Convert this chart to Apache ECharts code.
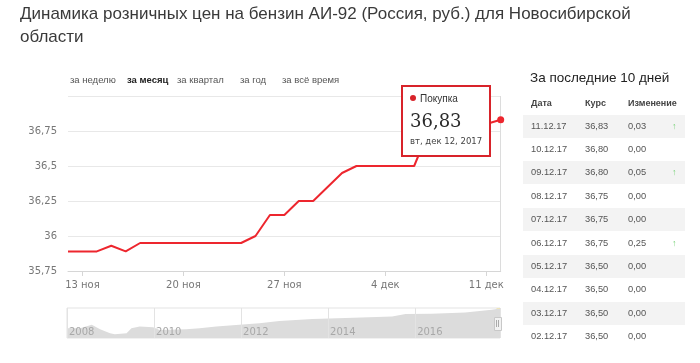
<!DOCTYPE html>
<html>
<head>
<meta charset="utf-8">
<script src="https://cdn.jsdelivr.net/npm/echarts@6/dist/echarts.min.js"></script>
<style>
  html, body { margin:0; padding:0; background:#fff; }
  body { width:700px; height:363px; position:relative; overflow:hidden; font-family:"Liberation Sans", Arial, sans-serif; }
  #chart { position:absolute; left:0; top:0; width:700px; height:363px; }
  .title { position:absolute; left:20px; top:2px; font-size:17px; line-height:23px; color:#3a3a3a; white-space:nowrap; }
  .range { position:absolute; top:73px; font-size:9.5px; color:#555; line-height:14px; white-space:nowrap; }
  .range.active { font-weight:bold; color:#222; }
  .side-title { position:absolute; left:530px; top:69px; font-size:13.5px; color:#222; line-height:18px; white-space:nowrap; }
  .th { position:absolute; top:97px; font-size:9px; font-weight:bold; color:#444; line-height:12px; white-space:nowrap; }
  .row { position:absolute; left:523px; width:162px; height:23px; }
  .row.shade { background:#f3f3f3; }
  .cell { position:absolute; top:0; font-size:9.3px; color:#555; line-height:23px; white-space:nowrap; }
  .arrow { color:#7ad37a; font-size:9px; }
</style>
</head>
<body>
<div id="chart"></div>
<div class="title">Динамика розничных цен на бензин АИ-92 (Россия, руб.) для Новосибирской<br>области</div>
<div id="ranges"></div>
<div class="side-title">За последние 10 дней</div>
<div class="th" style="left:531px">Дата</div>
<div class="th" style="left:585px">Курс</div>
<div class="th" style="left:628px">Изменение</div>
<div id="table"></div>
<script>
// ---- main chart data ----
const dates = ['2017-11-12','2017-11-13','2017-11-14','2017-11-15','2017-11-16','2017-11-17','2017-11-18','2017-11-19','2017-11-20','2017-11-21','2017-11-22','2017-11-23','2017-11-24','2017-11-25','2017-11-26','2017-11-27','2017-11-28','2017-11-29','2017-11-30','2017-12-01','2017-12-02','2017-12-03','2017-12-04','2017-12-05','2017-12-06','2017-12-07','2017-12-08','2017-12-09','2017-12-10','2017-12-11','2017-12-12'];
const prices = [35.89,35.89,35.89,35.93,35.89,35.95,35.95,35.95,35.95,35.95,35.95,35.95,35.95,36.00,36.15,36.15,36.25,36.25,36.35,36.45,36.50,36.50,36.50,36.50,36.50,36.75,36.75,36.75,36.80,36.80,36.83];
const seriesName = 'Покупка';
const monthsRu = ['янв','фев','мар','апр','май','июн','июл','авг','сен','окт','ноя','дек'];
const weekdaysRu = ['вс','пн','вт','ср','чт','пт','сб'];
// ---- navigator (history) data ----
const navYears = [2008.0,2008.30,2008.57,2008.76,2008.99,2009.10,2009.37,2009.48,2009.67,2009.98,2010.13,2010.74,2011.05,2011.43,2011.96,2012.42,2012.88,2013.64,2014.40,2015.47,2015.78,2016.38,2017.15,2017.76,2017.87,2017.95];
const navValues = [23.7,23.7,26.0,23.0,20.2,19.6,20.2,23.7,24.8,24.4,22.5,23.0,23.7,24.8,26.0,27.1,28.7,29.9,30.6,31.7,33.4,33.6,34.5,36.3,36.8,36.83];
const navTicks = [2008, 2010, 2012, 2014, 2016];
// ---- range buttons ----
const rangeLabels = ['за неделю','за месяц','за квартал','за год','за всё время'];
const rangeLeft = [70,127,177,240,282];
// ---- side table ----
const tableDates = ['11.12.17','10.12.17','09.12.17','08.12.17','07.12.17','06.12.17','05.12.17','04.12.17','03.12.17','02.12.17'];
const tableRates = [36.83,36.80,36.80,36.75,36.75,36.75,36.50,36.50,36.50,36.50];
const tableChanges = [0.03,0.00,0.05,0.00,0.00,0.25,0.00,0.00,0.00,0.00];

const fmt2 = v => v.toFixed(2).replace('.', ',');

// range buttons
const rEl = document.getElementById('ranges');
rangeLabels.forEach((t,i) => {
  const d = document.createElement('div');
  d.className = 'range' + (i === 1 ? ' active' : '');
  d.style.left = rangeLeft[i] + 'px';
  d.textContent = t;
  rEl.appendChild(d);
});
// table
const tEl = document.getElementById('table');
tableDates.forEach((d,i) => {
  const row = document.createElement('div');
  row.className = 'row' + (i % 2 === 0 ? ' shade' : '');
  row.style.top = (114.5 + i * 23.4) + 'px';
  row.innerHTML = '<div class="cell" style="left:8px">' + d + '</div>' +
    '<div class="cell" style="left:62px">' + fmt2(tableRates[i]) + '</div>' +
    '<div class="cell" style="left:105px">' + fmt2(tableChanges[i]) + '</div>' +
    (tableChanges[i] > 0 ? '<div class="cell arrow" style="left:149px">↑</div>' : '');
  tEl.appendChild(row);
});

const chart = echarts.init(document.getElementById('chart'), null, {renderer:'canvas'});
const red = '#d8232a';
const lastIdx = prices.length - 1;
const option = {
  animation: false,
  grid: [
    {left:68, right:199.3, top:96, bottom:92},
    {left:67, right:200, top:308, bottom:25, show:true, borderColor:'#e3e3e3', borderWidth:1, backgroundColor:'#fff'}
  ],
  xAxis: [
    {
      type:'category', gridIndex:0, data:dates, boundaryGap:false,
      axisLine:{lineStyle:{color:'#d6d6d6'}},
      axisTick:{show:true, length:5, lineStyle:{color:'#d6d6d6'}, interval:(i)=> (i-1) % 7 === 0},
      axisLabel:{color:'#777', fontSize:10, margin:9, fontFamily:'DejaVu Sans',
        interval:(i)=> (i-1) % 7 === 0,
        formatter:(v)=>{ const d = new Date(v+'T00:00:00'); return d.getDate() + ' ' + monthsRu[d.getMonth()]; }},
      splitLine:{show:false}
    },
    {
      type:'value', gridIndex:1, min:2008, max:2017.95, interval:2, z:10,
      axisLine:{show:false}, axisTick:{show:false},
      axisLabel:{inside:true, color:'#a8a8a8', fontSize:10, margin:1, align:'left', padding:[0,0,0,2], showMaxLabel:false, fontFamily:'DejaVu Sans',
        formatter:(v)=> navTicks.indexOf(v) >= 0 ? String(v) : ''},
      splitLine:{show:true, lineStyle:{color:'#e3e3e3'}}
    }
  ],
  yAxis: [
    {
      type:'value', gridIndex:0, min:35.75, max:37, interval:0.25,
      axisLine:{show:false}, axisTick:{show:false},
      axisLabel:{color:'#777', fontSize:10, margin:11, fontFamily:'DejaVu Sans',
        formatter:(v)=> v >= 37 ? '' : String(v).replace('.', ',')},
      splitLine:{lineStyle:{color:'#e8e8e8'}}
    },
    {
      type:'value', gridIndex:1, min:17, max:37.5,
      axisLine:{show:false}, axisTick:{show:false}, axisLabel:{show:false}, splitLine:{show:false}
    }
  ],
  tooltip: {
    trigger:'axis', alwaysShowContent:true, showDelay:0, hideDelay:0, transitionDuration:0,
    backgroundColor:'#fff', borderColor:red, borderWidth:2, padding:[5,7],
    position:()=>[401,85],
    axisPointer:{type:'line', z:0, lineStyle:{color:'#dcdcdc', width:1, type:'solid'}},
    extraCssText:'box-shadow:none;border-radius:0;width:90px;height:72px;box-sizing:border-box;',
    formatter:(params)=>{
      const p = params.filter(x=>x.seriesIndex===0)[0];
      if (!p) return '';
      const d = new Date(p.name+'T00:00:00');
      const v = typeof p.value === 'object' ? p.value.value : p.value;
      const dateStr = weekdaysRu[d.getDay()] + ', ' + monthsRu[d.getMonth()] + ' ' + d.getDate() + ', ' + d.getFullYear();
      return '<div style="font-family:Liberation Sans,Arial;font-size:10px;color:#333;line-height:14px;">' +
        '<span style="display:inline-block;width:6px;height:6px;border-radius:3px;background:'+red+';margin-right:4px;vertical-align:1px"></span>' + p.seriesName + '</div>' +
        '<div style="font-family:DejaVu Serif;font-size:18px;color:#2a2a2a;line-height:24px;margin-top:3px;">' + fmt2(v) + '</div>' +
        '<div style="font-family:DejaVu Sans;font-size:8.5px;color:#444;line-height:14px;margin-top:1px;">' + dateStr + '</div>';
    }
  },
  series: [
    {
      name:seriesName, type:'line', xAxisIndex:0, yAxisIndex:0,
      data:prices.map((v,i)=> i === lastIdx ? {value:v, symbol:'circle', symbolSize:7} : v),
      showSymbol:true, symbol:'none', symbolSize:7, z:5,
      lineStyle:{color:red, width:2}, itemStyle:{color:red},
      emphasis:{scale:false, lineStyle:{width:2}}
    },
    {
      type:'line', xAxisIndex:1, yAxisIndex:1, data:navYears.map((y,i)=>[y, navValues[i]]),
      showSymbol:false, silent:true, tooltip:{show:false}, z:1,
      lineStyle:{width:0}, areaStyle:{color:'#dcdcdc', opacity:1},
      markArea:{silent:true, itemStyle:{color:'rgba(238,224,160,0.7)'}, data:[[{xAxis:2017.87},{xAxis:2017.95}]]}
    }
  ],
  graphic: [
    {type:'rect', left:494, top:317, shape:{width:7, height:13}, style:{fill:'#f2f2f2', stroke:'#c8c8c8', lineWidth:1}, z:100},
    {type:'line', shape:{x1:496.5, y1:320, x2:496.5, y2:327}, style:{stroke:'#aaa', lineWidth:1}, z:101},
    {type:'line', shape:{x1:498.5, y1:320, x2:498.5, y2:327}, style:{stroke:'#aaa', lineWidth:1}, z:101}
  ]
};
chart.setOption(option);
chart.dispatchAction({type:'showTip', seriesIndex:0, dataIndex:lastIdx});
</script>
</body>
</html>
